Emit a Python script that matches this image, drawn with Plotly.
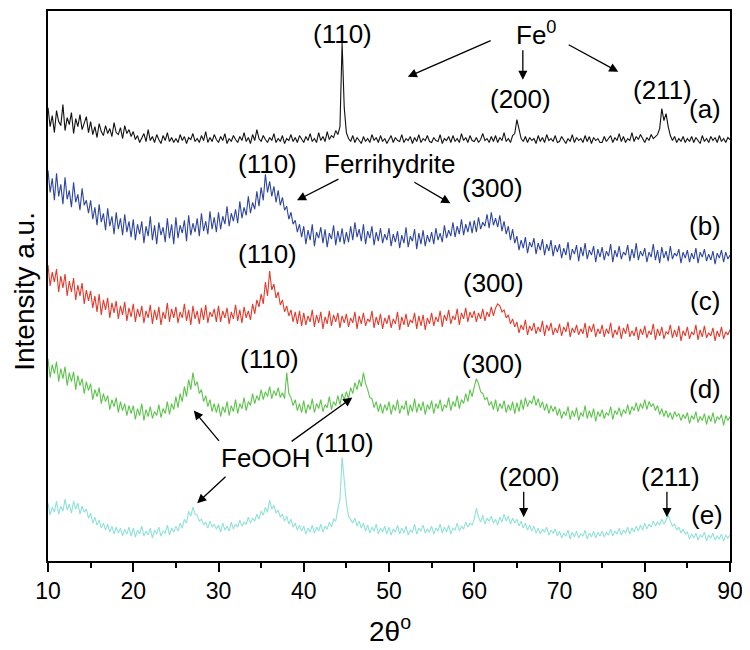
import plotly.graph_objects as go

# 2-theta scan grid (degrees), 0.25 degree step from 10 to 90
two_theta = [10 + 0.25 * i for i in range(321)]

# Stacked intensities (a.u., offset for display)
pattern_a = [
    455, 436, 447, 430, 452, 441, 437, 458, 432, 445, 438, 450, 429, 444, 436, 448, 433, 440, 446, 430,
    441, 428, 436, 425, 439, 431, 427, 437, 429, 434, 426, 440, 430, 428, 435, 424, 437, 429, 433, 426,
    431, 423, 427, 420, 425, 429, 421, 433, 422, 426, 420, 428, 423, 419, 427, 422, 430, 421, 425, 420,
    424, 420, 428, 422, 426, 419, 425, 423, 429, 421, 424, 420, 427, 422, 431, 420, 425, 421, 428, 423,
    420, 426, 422, 429, 419, 424, 421, 427, 423, 420, 426, 422, 430, 421, 425, 419, 428, 422, 433, 424,
    421, 427, 423, 420, 425, 422, 429, 420, 424, 421, 427, 419, 424, 422, 428, 421, 425, 420, 427, 423,
    420, 426, 422, 429, 421, 424, 420, 430, 422, 426, 421, 431, 423, 427, 425, 432, 428, 436, 520, 455,
    430, 424, 421, 427, 420, 425, 422, 419, 426, 421, 424, 420, 428, 422, 425, 420, 427, 421, 424, 419,
    423, 427, 420, 425, 422, 421, 428, 420, 424, 422, 426, 419, 425, 421, 428, 420, 424, 422, 427, 421,
    420, 425, 422, 421, 428, 419, 424, 422, 426, 420, 427, 421, 424, 420, 429, 422, 425, 420, 427, 422,
    421, 425, 420, 423, 429, 422, 424, 420, 426, 421, 427, 420, 425, 422, 430, 421, 424, 420, 427, 429,
    443, 432, 424, 421, 426, 420, 425, 422, 424, 419, 427, 421, 425, 420, 428, 422, 424, 421, 427, 420,
    421, 426, 422, 419, 424, 421, 428, 420, 425, 422, 424, 420, 427, 421, 426, 419, 425, 422, 424, 420,
    420, 426, 421, 424, 427, 420, 425, 422, 429, 421, 426, 420, 424, 422, 430, 421, 426, 423, 428, 424,
    420, 425, 422, 428, 424, 426, 428, 434, 454, 442, 449, 436, 427, 422, 426, 420, 424, 421, 426, 420,
    424, 421, 426, 420, 425, 422, 419, 427, 421, 424, 420, 426, 422, 425, 420, 427, 421, 424, 420, 425,
    423,
]
pattern_b = [
    392, 370, 384, 362, 389, 366, 378, 358, 385, 363, 372, 355, 380, 360, 368, 352, 374, 357, 362, 349,
    362, 343, 355, 337, 358, 340, 349, 332, 354, 336, 346, 328, 350, 333, 344, 327, 348, 330, 341, 325,
    343, 322, 338, 328, 341, 319, 336, 326, 346, 322, 337, 318, 340, 327, 335, 320, 344, 324, 338, 318,
    345, 324, 337, 329, 342, 321, 347, 327, 339, 330, 344, 326, 349, 331, 341, 328, 351, 333, 345, 330,
    350, 333, 346, 338, 356, 336, 349, 341, 353, 339, 361, 344, 355, 347, 366, 349, 360, 353, 371, 356,
    375, 362, 388, 370, 381, 366, 376, 360, 372, 357, 365, 352, 356, 343, 350, 338, 342, 330, 338, 325,
    336, 318, 332, 322, 338, 316, 330, 324, 335, 319, 333, 315, 329, 323, 337, 317, 331, 320, 334, 318,
    330, 320, 336, 322, 340, 325, 333, 321, 338, 318, 331, 324, 336, 317, 330, 321, 334, 319, 328, 322,
    334, 316, 328, 320, 331, 314, 327, 319, 335, 315, 326, 321, 333, 313, 329, 318, 332, 316, 327, 320,
    330, 318, 334, 322, 329, 320, 337, 324, 332, 326, 340, 325, 336, 328, 343, 327, 338, 330, 341, 329,
    342, 330, 345, 333, 340, 336, 348, 334, 350, 337, 344, 335, 347, 331, 341, 328, 336, 322, 333, 319,
    326, 312, 322, 314, 325, 309, 320, 315, 324, 308, 319, 312, 323, 307, 318, 311, 322, 306, 317, 310,
    318, 304, 314, 307, 320, 302, 313, 308, 317, 301, 315, 306, 319, 303, 312, 307, 316, 300, 313, 305,
    315, 302, 311, 306, 318, 300, 312, 305, 316, 303, 310, 307, 317, 301, 313, 304, 319, 302, 311, 306,
    314, 300, 310, 305, 318, 302, 312, 299, 315, 304, 311, 301, 316, 303, 309, 306, 313, 299, 310, 304,
    312, 300, 309, 303, 314, 299, 310, 305, 313, 301, 308, 302, 311, 298, 309, 304, 312, 300, 310, 303,
    307,
]
pattern_c = [
    297, 276, 290, 280, 293, 270, 286, 274, 288, 266, 281, 270, 284, 262, 277, 266, 279, 258, 272, 261,
    271, 254, 266, 250, 268, 247, 262, 252, 264, 244, 259, 249, 261, 243, 256, 247, 260, 241, 254, 245,
    258, 240, 253, 245, 256, 239, 251, 244, 257, 238, 252, 242, 255, 237, 250, 243, 259, 240, 253, 244,
    255, 239, 250, 244, 258, 241, 252, 237, 256, 243, 251, 238, 254, 242, 257, 239, 250, 245, 253, 240,
    256, 240, 251, 244, 254, 238, 250, 243, 257, 241, 252, 239, 255, 244, 251, 242, 258, 248, 262, 255,
    268, 258, 280, 266, 291, 272, 278, 264, 270, 257, 262, 250, 256, 246, 252, 240, 250, 238, 251, 236,
    249, 237, 246, 240, 252, 235, 247, 239, 250, 233, 245, 238, 251, 236, 247, 240, 249, 234, 246, 239,
    248, 235, 244, 239, 250, 233, 246, 238, 249, 236, 243, 240, 251, 234, 245, 237, 248, 233, 244, 238,
    247, 234, 243, 238, 250, 232, 245, 237, 248, 235, 242, 239, 249, 233, 246, 236, 247, 232, 244, 238,
    249, 236, 245, 240, 251, 235, 247, 241, 252, 238, 246, 242, 253, 237, 249, 243, 254, 240, 250, 244,
    251, 240, 249, 243, 253, 241, 250, 245, 255, 246, 254, 258, 256, 250, 252, 244, 247, 238, 243, 235,
    240, 229, 237, 232, 242, 227, 236, 231, 239, 228, 235, 230, 241, 226, 237, 231, 239, 227, 234, 229,
    238, 226, 235, 230, 240, 225, 234, 229, 237, 227, 233, 228, 239, 224, 236, 230, 238, 225, 233, 228,
    237, 225, 233, 228, 239, 224, 232, 227, 236, 223, 234, 228, 238, 225, 231, 226, 235, 222, 233, 227,
    236, 224, 231, 227, 238, 222, 233, 226, 235, 223, 230, 228, 237, 224, 232, 225, 236, 221, 231, 226,
    235, 223, 230, 227, 237, 222, 232, 225, 236, 224, 229, 226, 234, 221, 231, 225, 235, 223, 230, 227,
    232,
]
pattern_d = [
    203, 184, 197, 188, 200, 180, 193, 183, 195, 176, 189, 180, 190, 172, 186, 176, 183, 168, 180, 171,
    178, 162, 172, 165, 174, 158, 168, 160, 166, 152, 162, 155, 164, 149, 160, 151, 158, 146, 156, 148,
    156, 142, 153, 146, 158, 141, 152, 145, 155, 143, 150, 146, 157, 144, 153, 148, 160, 147, 158, 152,
    165, 154, 168, 160, 175, 165, 182, 172, 189, 176, 180, 168, 172, 160, 166, 155, 162, 150, 158, 149,
    158, 145, 155, 149, 160, 146, 156, 150, 162, 148, 158, 153, 164, 151, 160, 156, 168, 158, 166, 161,
    172, 162, 170, 165, 175, 163, 171, 166, 174, 164, 169, 163, 189, 168, 164, 156, 162, 151, 158, 149,
    161, 148, 157, 152, 163, 149, 158, 153, 162, 150, 157, 154, 165, 152, 160, 156, 166, 157, 168, 162,
    170, 163, 174, 168, 179, 172, 182, 175, 189, 178, 172, 164, 163, 154, 160, 150, 158, 148, 157, 151,
    160, 147, 157, 151, 162, 148, 156, 152, 161, 146, 157, 150, 163, 149, 158, 151, 160, 147, 157, 152,
    161, 148, 158, 153, 162, 150, 157, 154, 164, 151, 160, 155, 166, 153, 162, 158, 168, 160, 172, 165,
    175, 183, 178, 170, 168, 162, 164, 156, 160, 152, 162, 150, 158, 153, 161, 149, 157, 151, 160, 148,
    159, 150, 162, 152, 164, 155, 161, 158, 166, 156, 163, 154, 160, 151, 158, 148, 156, 150, 155, 146,
    153, 143, 150, 146, 155, 142, 151, 145, 154, 141, 149, 145, 156, 143, 151, 144, 153, 140, 150, 145,
    152, 143, 149, 146, 155, 142, 151, 147, 154, 145, 152, 148, 157, 147, 155, 151, 159, 150, 158, 153,
    162, 152, 160, 155, 158, 151, 156, 147, 153, 145, 151, 144, 149, 142, 150, 145, 148, 141, 147, 143,
    149, 138, 146, 142, 150, 139, 145, 141, 148, 137, 146, 140, 149, 138, 145, 142, 147, 136, 146, 141,
    145,
]
pattern_e = [
    58, 46, 54, 49, 60, 47, 55, 50, 62, 51, 57, 48, 60, 52, 58, 47, 55, 49, 52, 43,
    48, 38, 44, 36, 41, 33, 38, 31, 37, 29, 35, 27, 34, 28, 33, 25, 32, 27, 34, 25,
    33, 24, 31, 27, 35, 25, 30, 26, 33, 23, 31, 27, 34, 25, 30, 28, 36, 26, 33, 29,
    35, 30, 38, 33, 42, 38, 50, 45, 54, 47, 46, 40, 42, 36, 39, 33, 40, 34, 37, 32,
    36, 29, 38, 31, 35, 30, 39, 32, 37, 34, 41, 35, 39, 37, 44, 38, 43, 40, 47, 42,
    50, 46, 54, 49, 61, 52, 56, 48, 51, 44, 47, 40, 45, 37, 42, 34, 38, 31, 36, 30,
    35, 27, 33, 29, 36, 28, 34, 30, 37, 29, 35, 32, 39, 34, 42, 40, 52, 62, 104, 78,
    58, 45, 42, 38, 43, 35, 40, 33, 38, 30, 36, 28, 34, 30, 37, 27, 33, 29, 35, 27,
    34, 26, 32, 29, 36, 27, 33, 28, 35, 26, 31, 29, 37, 27, 33, 30, 36, 28, 32, 29,
    35, 27, 33, 30, 37, 28, 34, 29, 36, 27, 33, 31, 38, 30, 35, 32, 39, 34, 38, 36,
    42, 53, 44, 39, 46, 37, 43, 40, 45, 38, 42, 36, 44, 39, 47, 40, 45, 37, 43, 38,
    42, 35, 40, 33, 38, 31, 36, 30, 35, 28, 33, 27, 32, 29, 34, 26, 31, 28, 32, 25,
    30, 23, 28, 25, 31, 22, 29, 24, 30, 23, 27, 25, 31, 22, 28, 24, 30, 23, 29, 25,
    30, 24, 29, 26, 32, 25, 30, 27, 33, 26, 31, 28, 34, 27, 33, 29, 35, 30, 36, 31,
    38, 32, 37, 34, 40, 35, 39, 36, 42, 37, 41, 46, 40, 35, 37, 31, 34, 28, 32, 27,
    29, 22, 27, 23, 28, 21, 26, 24, 29, 20, 26, 23, 28, 21, 25, 22, 27, 20, 26, 23,
    26,
]

series_names = ["(a)", "(b)", "(c)", "(d)", "(e)"]
series_values = [pattern_a, pattern_b, pattern_c, pattern_d, pattern_e]
series_colors = ["#111111", "#2d45a0", "#e43a2b", "#5cc44b", "#8fe1d9"]

x_ticks = [10, 20, 30, 40, 50, 60, 70, 80, 90]

FONT = "Liberation Sans, Arial, Helvetica, sans-serif"

fig = go.Figure()
for name, vals, col in zip(series_names, series_values, series_colors):
    assert len(vals) == len(two_theta), (name, len(vals))
    fig.add_trace(go.Scatter(x=two_theta, y=vals, mode="lines", name=name,
                             line=dict(color=col, width=1.1), showlegend=False))

ann = []
# text labels: (text, x in 2theta, y in intensity units)
labels = [
    ("(110)", 44.6, 529), ("Fe<sup>0</sup>", 67.2, 529), ("(200)", 65.4, 464),
    ("(211)", 82.1, 473), ("(a)", 87.1, 454),
    ("(110)", 35.7, 398), ("Ferrihydrite", 50.1, 398), ("(300)", 62.1, 374),
    ("(b)", 87.1, 336),
    ("(110)", 35.7, 308), ("(300)", 62.2, 279), ("(c)", 87.1, 261),
    ("(110)", 36.0, 203), ("(300)", 62.1, 198), ("(d)", 87.1, 173),
    ("FeOOH", 35.6, 103), ("(110)", 44.8, 118), ("(200)", 66.5, 84),
    ("(211)", 83.0, 84), ("(e)", 87.3, 46),
]
for t, x, y in labels:
    ann.append(dict(text=t, x=x, y=y, xref="x", yref="y", showarrow=False,
                    xanchor="center", yanchor="middle",
                    font=dict(family=FONT, size=26, color="black")))

# arrows: (tail x, tail y, head x, head y)
arrows = [
    (62.1, 523, 52.2, 486), (65.7, 514, 65.7, 483), (70.9, 519, 76.9, 491),
    (44.25, 384, 39.2, 362), (52.8, 381, 57.2, 359),
    (30.2, 119, 27.1, 151), (38.4, 119, 45.7, 164), (31.0, 86, 27.5, 58),
    (65.8, 71, 65.8, 44), (82.6, 71, 82.6, 44),
]
for tx, ty, hx, hy in arrows:
    ann.append(dict(text="", x=hx, y=hy, ax=tx, ay=ty, xref="x", yref="y",
                    axref="x", ayref="y", showarrow=True, arrowhead=2,
                    arrowsize=1.4, arrowwidth=1.3, arrowcolor="black",
                    standoff=0, startstandoff=0))

ann.append(dict(text="Intensity a.u.", x=-0.034, y=271 / 552, xref="paper", yref="paper",
                textangle=-90, showarrow=False, xanchor="center", yanchor="middle",
                font=dict(family=FONT, size=28, color="black")))
ann.append(dict(text="2θ<sup>o</sup>", x=0.502, y=-68 / 552, xref="paper", yref="paper",
                showarrow=False, xanchor="center", yanchor="middle",
                font=dict(family=FONT, size=28, color="black")))

# page body has an 8px default margin, so the figure is sized to fit the window
fig.update_layout(
    width=742, height=642,
    margin=dict(l=40, r=20, t=1, b=89),
    paper_bgcolor="white", plot_bgcolor="white",
    annotations=ann,
    xaxis=dict(range=[10, 90], tickvals=x_ticks, ticks="outside", ticklen=9,
               tickwidth=1.5, tickcolor="black", showline=True, mirror=True,
               linecolor="black", linewidth=1.5, showgrid=False, zeroline=False,
               tickfont=dict(family=FONT, size=23, color="black"),
               minor=dict(dtick=5, ticks="outside", ticklen=5, tickwidth=1.5,
                          tickcolor="black", showgrid=False)),
    yaxis=dict(range=[0, 552], showticklabels=False, ticks="", showline=True,
               mirror=True, linecolor="black", linewidth=1.5, showgrid=False,
               zeroline=False),
)

fig.write_html("out.html")
